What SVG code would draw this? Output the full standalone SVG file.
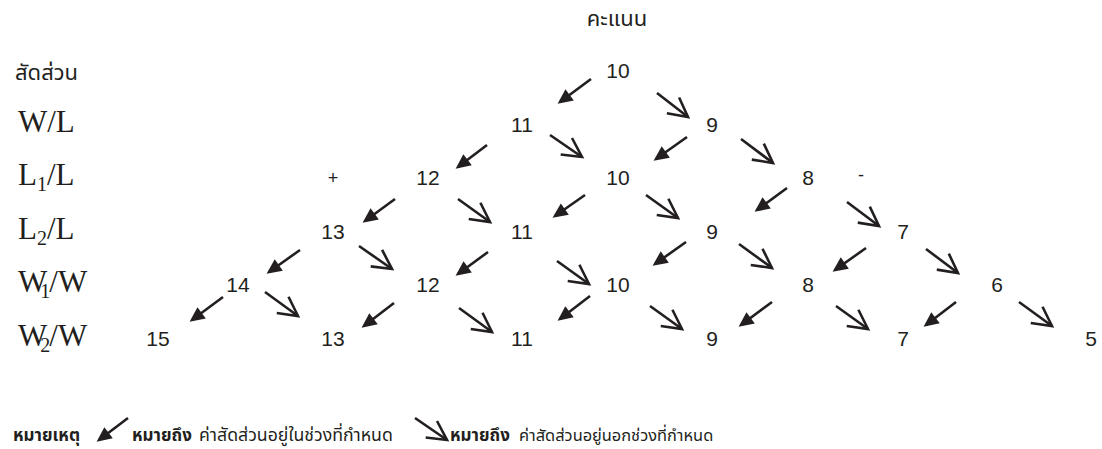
<svg xmlns="http://www.w3.org/2000/svg" width="1102" height="449" viewBox="0 0 1102 449">
<style>
.num{font-family:"Liberation Sans",Arial,sans-serif;font-size:21px;fill:#231f20;text-anchor:middle}
.lab{font-family:"Liberation Serif","Times New Roman",serif;font-size:31px;fill:#231f20}
.sub{font-size:20px}
.th{font-family:"Noto Sans Thai","Noto Sans Thai UI","Noto Sans","Liberation Sans",sans-serif;fill:#231f20}
.sign{font-family:"Liberation Sans",Arial,sans-serif;font-size:18px;fill:#231f20;text-anchor:middle}
.f{stroke:#231f20;stroke-width:2.6;fill:none;marker-end:url(#mf)}
.o{stroke:#231f20;stroke-width:2.6;fill:none;marker-end:url(#mo)}
</style>
<defs>
<marker id="mf" markerUnits="userSpaceOnUse" orient="auto" markerWidth="16" markerHeight="16" refX="12" refY="7" overflow="visible">
<path d="M0,0 L15,7 L0,14 z" fill="#231f20"/>
</marker>
<marker id="mo" markerUnits="userSpaceOnUse" orient="auto" markerWidth="24" markerHeight="24" refX="20" refY="11" overflow="visible">
<path d="M1,1 L20,11 L1,21" fill="none" stroke="#231f20" stroke-width="2.6" stroke-linejoin="miter"/>
</marker>
</defs>
<rect width="1102" height="449" fill="#ffffff"/>

<g id="title"><text class="th" x="617" y="26" font-size="22" text-anchor="middle">คะแนน</text></g>

<g id="labels">
<text class="th" x="15" y="80" font-size="22">สัดส่วน</text>
<text class="lab" x="18" y="132">W/L</text>
<text class="lab" x="18" y="185">L<tspan class="sub" dy="6">1</tspan><tspan dy="-6">/L</tspan></text>
<text class="lab" x="18" y="239">L<tspan class="sub" dy="6">2</tspan><tspan dy="-6">/L</tspan></text>
<text class="lab" x="18" y="292">W<tspan class="sub" dx="-7" dy="6">1</tspan><tspan dx="-1" dy="-6">/W</tspan></text>
<text class="lab" x="18" y="346">W<tspan class="sub" dx="-7" dy="6">2</tspan><tspan dx="-1" dy="-6">/W</tspan></text>
</g>

<g id="signs">
<text class="sign" x="333" y="184">+</text>
<text class="sign" x="861" y="181">-</text>
</g>

<g id="n0-10"><text class="num" x="618" y="78">10</text></g>
<g id="n1-11"><text class="num" x="522" y="132">11</text></g>
<g id="n1-9"><text class="num" x="712" y="132">9</text></g>
<g id="n2-12"><text class="num" x="428" y="185">12</text></g>
<g id="n2-10"><text class="num" x="618" y="185">10</text></g>
<g id="n2-8"><text class="num" x="808" y="185">8</text></g>
<g id="n3-13"><text class="num" x="333" y="239">13</text></g>
<g id="n3-11"><text class="num" x="522" y="239">11</text></g>
<g id="n3-9"><text class="num" x="712" y="239">9</text></g>
<g id="n3-7"><text class="num" x="903" y="239">7</text></g>
<g id="n4-14"><text class="num" x="238" y="292">14</text></g>
<g id="n4-12"><text class="num" x="428" y="292">12</text></g>
<g id="n4-10"><text class="num" x="618" y="292">10</text></g>
<g id="n4-8"><text class="num" x="808" y="292">8</text></g>
<g id="n4-6"><text class="num" x="997" y="292">6</text></g>
<g id="n5-15"><text class="num" x="158" y="346">15</text></g>
<g id="n5-13"><text class="num" x="333" y="346">13</text></g>
<g id="n5-11"><text class="num" x="522" y="346">11</text></g>
<g id="n5-9"><text class="num" x="712" y="346">9</text></g>
<g id="n5-7"><text class="num" x="903" y="346">7</text></g>
<g id="n5-5"><text class="num" x="1091" y="346">5</text></g>

<g id="connectors">
<line class="f" x1="591" y1="79" x2="560" y2="102"/>
<line class="o" x1="657" y1="93" x2="688" y2="117"/>
<line class="f" x1="487" y1="145" x2="458" y2="167"/>
<line class="o" x1="550" y1="135" x2="582" y2="157"/>
<line class="f" x1="687" y1="137" x2="656" y2="159"/>
<line class="o" x1="741" y1="139" x2="773" y2="163"/>
<line class="f" x1="395" y1="199" x2="365" y2="221"/>
<line class="o" x1="458" y1="199" x2="490" y2="222"/>
<line class="f" x1="585" y1="195" x2="555" y2="216"/>
<line class="o" x1="646" y1="195" x2="678" y2="218"/>
<line class="f" x1="787" y1="188" x2="757" y2="210"/>
<line class="o" x1="847" y1="202" x2="879" y2="226"/>
<line class="f" x1="300" y1="250" x2="269" y2="272"/>
<line class="o" x1="359" y1="246" x2="392" y2="269"/>
<line class="f" x1="488" y1="252" x2="458" y2="274"/>
<line class="o" x1="557" y1="261" x2="589" y2="284"/>
<line class="f" x1="686" y1="242" x2="655" y2="264"/>
<line class="o" x1="739" y1="244" x2="772" y2="268"/>
<line class="f" x1="866" y1="248" x2="835" y2="270"/>
<line class="o" x1="926" y1="249" x2="958" y2="273"/>
<line class="f" x1="223" y1="297" x2="192" y2="320"/>
<line class="o" x1="265" y1="292" x2="298" y2="316"/>
<line class="f" x1="394" y1="303" x2="364" y2="326"/>
<line class="o" x1="459" y1="308" x2="492" y2="332"/>
<line class="f" x1="590" y1="296" x2="560" y2="319"/>
<line class="o" x1="650" y1="306" x2="682" y2="329"/>
<line class="f" x1="772" y1="302" x2="741" y2="325"/>
<line class="o" x1="836" y1="306" x2="868" y2="329"/>
<line class="f" x1="956" y1="302" x2="926" y2="325"/>
<line class="o" x1="1019" y1="302" x2="1052" y2="326"/>
</g>

<g id="legend">
<text class="th" x="13" y="441" font-size="17" font-weight="bold">หมายเหตุ</text>
<line class="f" x1="128" y1="418" x2="99" y2="440"/>
<text class="th" x="132" y="441" font-size="17" font-weight="bold">หมายถึง</text>
<text class="th" x="199" y="441" font-size="17.7">ค่าสัดส่วนอยู่ในช่วงที่กำหนด</text>
<line class="o" x1="415" y1="418" x2="447" y2="440"/>
<text class="th" x="450" y="441" font-size="17" font-weight="bold">หมายถึง</text>
<text class="th" x="519" y="441" font-size="16.4">ค่าสัดส่วนอยู่นอกช่วงที่กำหนด</text>
</g>
</svg>
